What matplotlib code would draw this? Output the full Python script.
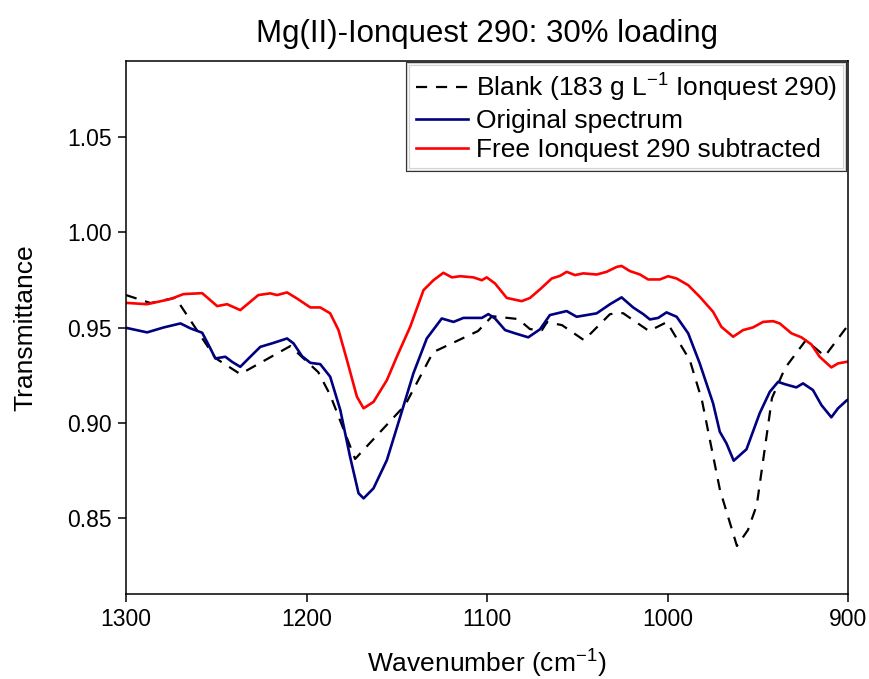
import matplotlib
matplotlib.use("Agg")
import matplotlib.pyplot as plt
import matplotlib.patheffects as pe

plt.rcParams["font.family"] = ["Liberation Sans", "DejaVu Sans"]
plt.rcParams["mathtext.fontset"] = "custom"
plt.rcParams["mathtext.rm"] = "Liberation Sans"
plt.rcParams["mathtext.it"] = "Liberation Sans:italic"

# Blank: 183 g/L Ionquest 290 (coarse spectrum, black dashed)
blank_x = [1300, 1286.4, 1272.6, 1250.5, 1236.7, 1209.0, 1193.5, 1186.9, 1173.1, 1145.4,
           1129.9, 1105.0, 1097.2, 1082.8, 1076.2, 1069.6, 1066.8, 1058.5, 1046.3, 1031.9,
           1024.7, 1010.3, 1000.4, 987.7, 981.0, 971.0, 961.6, 955.5, 950.6, 942.2,
           935.0, 923.4, 912.9, 900.0]
blank_y = [0.9671, 0.9629, 0.9657, 0.9340, 0.9256, 0.9403, 0.9266, 0.9146, 0.8810, 0.9093,
           0.9371, 0.9482, 0.9560, 0.9545, 0.9492, 0.9487, 0.9529, 0.9513, 0.9434, 0.9571,
           0.9576, 0.9482, 0.9529, 0.9329, 0.9119, 0.8647, 0.8353, 0.8437, 0.8568, 0.9130,
           0.9287, 0.9434, 0.9350, 0.9513]

# Original spectrum (navy)
orig_x = [1300, 1288.3, 1279.1, 1269.8, 1264.3, 1257.8, 1254.2, 1250.5, 1245.0, 1241.2,
          1236.7, 1232.1, 1225.6, 1218.2, 1210.8, 1207.2, 1202.5, 1197.9, 1192.4, 1186.9,
          1181.3, 1175.9, 1171.2, 1168.4, 1162.9, 1155.5, 1148.1, 1140.8, 1133.4, 1125.1,
          1118.6, 1113.1, 1102.9, 1099.3, 1095.6, 1090.0, 1084.5, 1077.2, 1070.7, 1065.2,
          1055.9, 1050.4, 1039.3, 1031.9, 1025.5, 1019.1, 1013.5, 1009.8, 1005.2, 1000.6,
          995.0, 988.6, 982.2, 974.8, 971.1, 967.4, 963.4, 956.3, 949.0, 943.4,
          938.8, 935.1, 928.7, 925.0, 919.5, 914.8, 909.3, 905.6, 901.0, 900.0]
orig_y = [0.9499, 0.9475, 0.9501, 0.9522, 0.9496, 0.9473, 0.9408, 0.9338, 0.9347, 0.9320,
          0.9294, 0.9338, 0.9399, 0.9420, 0.9443, 0.9417, 0.9350, 0.9315, 0.9308, 0.9242,
          0.9067, 0.8822, 0.8630, 0.8603, 0.8656, 0.8804, 0.9032, 0.9260, 0.9443, 0.9548,
          0.9530, 0.9551, 0.9551, 0.9571, 0.9548, 0.9487, 0.9470, 0.9449, 0.9491, 0.9566,
          0.9587, 0.9557, 0.9575, 0.9623, 0.9659, 0.9606, 0.9571, 0.9543, 0.9551, 0.9580,
          0.9557, 0.9470, 0.9312, 0.9102, 0.8953, 0.8892, 0.8801, 0.8861, 0.9050, 0.9163,
          0.9215, 0.9203, 0.9186, 0.9207, 0.9172, 0.9093, 0.9029, 0.9076, 0.9116, 0.9122]

# Free Ionquest 290 subtracted (red)
sub_x = [1300, 1288.3, 1275.4, 1268.2, 1257.8, 1249.5, 1244.0, 1236.7, 1226.7, 1220.1,
         1216.3, 1210.8, 1205.3, 1197.9, 1192.4, 1186.9, 1182.3, 1177.6, 1172.1, 1168.4,
         1162.9, 1155.5, 1150.0, 1142.6, 1135.2, 1129.7, 1124.2, 1119.5, 1114.9, 1107.6,
         1102.9, 1100.2, 1095.6, 1089.1, 1080.8, 1076.2, 1070.7, 1064.2, 1059.6, 1055.9,
         1051.3, 1046.7, 1039.3, 1033.8, 1028.2, 1025.5, 1020.9, 1015.3, 1010.8, 1004.3,
         999.7, 995.0, 988.6, 982.2, 974.8, 970.2, 963.7, 958.2, 952.7, 947.1,
         941.6, 937.9, 931.4, 925.9, 920.4, 915.8, 909.3, 905.6, 901.0, 900.0]
sub_y = [0.9630, 0.9623, 0.9650, 0.9676, 0.9681, 0.9613, 0.9623, 0.9592, 0.9671, 0.9680,
         0.9671, 0.9685, 0.9653, 0.9606, 0.9606, 0.9575, 0.9487, 0.9329, 0.9137, 0.9076,
         0.9110, 0.9224, 0.9347, 0.9504, 0.9697, 0.9749, 0.9788, 0.9764, 0.9770, 0.9764,
         0.9749, 0.9764, 0.9732, 0.9656, 0.9639, 0.9656, 0.9701, 0.9758, 0.9772, 0.9793,
         0.9776, 0.9785, 0.9779, 0.9793, 0.9819, 0.9824, 0.9797, 0.9779, 0.9753, 0.9753,
         0.9770, 0.9758, 0.9723, 0.9662, 0.9583, 0.9504, 0.9452, 0.9487, 0.9501, 0.9530,
         0.9534, 0.9522, 0.9470, 0.9449, 0.9412, 0.9347, 0.9291, 0.9312, 0.9320, 0.9321]

x_ticks = [1300, 1200, 1100, 1000, 900]
y_ticks = [0.85, 0.90, 0.95, 1.00, 1.05]

fig = plt.figure(figsize=(8.69, 6.79), dpi=100)
ax = fig.add_axes([0.145, 0.125, 0.831, 0.785])

ax.plot(blank_x, blank_y, color="black", lw=1.6, dashes=(5, 4),
        label=r"Blank (183 g L$^{-1}$ Ionquest 290)")
ax.plot(orig_x, orig_y, color="#000080", lw=1.9, label="Original spectrum")
ax.plot(sub_x, sub_y, color="#ff0000", lw=1.9, label="Free Ionquest 290 subtracted")

ax.set_xlim(1300, 900)
ax.set_ylim(0.81, 1.09)
ax.set_xticks(x_ticks)
ax.set_yticks(y_ticks)
ax.set_yticklabels(["%.2f" % v for v in y_ticks])
ax.tick_params(direction="out", length=6, width=1.1, labelsize=16.5, pad=4,
               top=False, right=False)
for s in ax.spines.values():
    s.set_linewidth(1.1)

ax.set_xlabel(r"Wavenumber (cm$^{-1}$)", fontsize=19, labelpad=12)
ax.set_ylabel("Transmittance", fontsize=19, labelpad=22)
ax.set_title("Mg(II)-Ionquest 290: 30% loading", fontsize=22.5, pad=14)

leg = ax.legend(loc="upper right", fontsize=19, frameon=True, fancybox=False,
                handlelength=2.0, handletextpad=0.3, labelspacing=0.2,
                borderpad=0.28, borderaxespad=0.12)
frame = leg.get_frame()
frame.set_edgecolor("black")
frame.set_linewidth(0.8)
frame.set_path_effects([pe.Stroke(linewidth=3.0, foreground="black"),
                        pe.Stroke(linewidth=1.4, foreground="white")])

fig.savefig("out.png", dpi=100)
